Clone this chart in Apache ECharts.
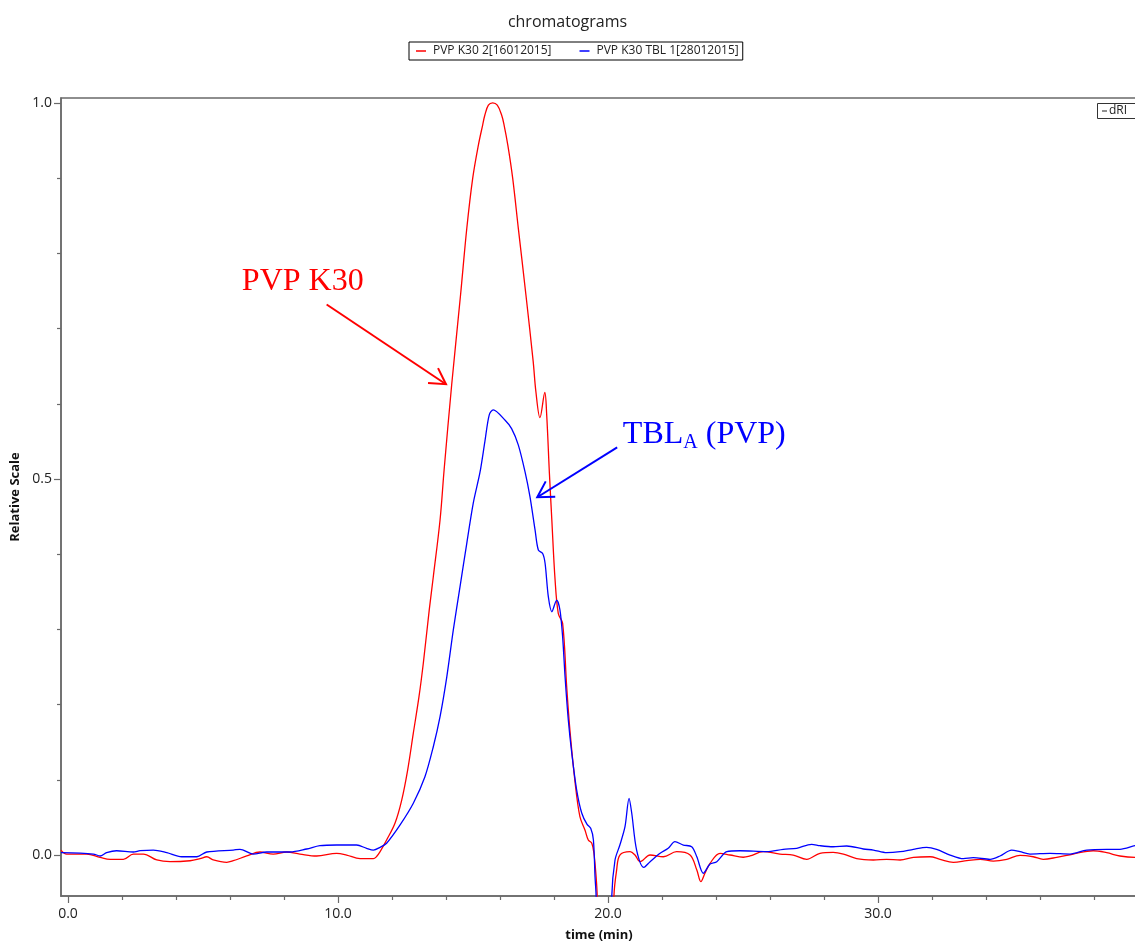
<!DOCTYPE html>
<html>
<head>
<meta charset="utf-8">
<script src="https://cdn.jsdelivr.net/npm/echarts@6/dist/echarts.min.js"></script>
<style>
  html, body { margin: 0; padding: 0; background: #fff; }
  #chart { width: 1135px; height: 945px; }
</style>
</head>
<body>
<div id="chart"></div>
<script>
// Refractive-index (dRI) chromatograms, normalised to the PVP K30 peak.

const seriesNames = ['PVP K30 2[16012015]', 'PVP K30 TBL 1[28012015]'];

// PVP K30 2 — retention time (min) and relative response
const redTime = [
  -0.26, -0.05, 0.69, 1.19, 1.56, 2.05, 2.42, 2.79, 3.29, 3.78, 4.52, 4.89, 5.14, 5.38, 5.88,
  6.12, 6.62, 7.11, 7.60, 8.10, 8.59, 9.21, 9.95, 10.32, 10.82, 11.31, 11.43, 11.56, 11.80, 12.11,
  12.36, 12.58, 12.79, 13.00, 13.16, 13.38, 13.53, 13.78, 13.93, 14.21, 14.54, 14.77, 14.99, 15.20,
  15.36, 15.44, 15.57, 15.73, 15.90, 16.06, 16.15, 16.29, 16.47, 16.68, 16.96, 17.23, 17.33, 17.48, 17.66, 17.73, 17.83, 17.92,
  18.04, 18.16, 18.32, 18.47, 18.59, 18.78, 18.96, 19.15, 19.27, 19.40, 19.48, 19.56, 19.60, 19.75,
  20.05, 20.22, 20.32, 20.44, 20.82, 21.00, 21.19, 21.56, 22.05, 22.54, 23.04, 23.29, 23.44, 23.59,
  23.78, 24.15, 24.52, 25.01, 25.26, 25.75, 26.37, 26.86, 27.36, 27.85, 28.34, 28.72, 29.21, 29.83,
  30.32, 30.82, 31.31, 31.93, 32.30, 32.79, 33.29, 33.78, 34.27, 34.77, 35.26, 35.75, 36.12, 36.62,
  37.23, 37.97, 38.47, 38.96, 39.52, 39.8
];
const redValue = [
  0.0066, 0.0013, 0.0013, -0.0031, -0.0057, -0.0057, 0.0013, 0.0013, -0.0066, -0.0089, -0.0076, -0.0049, -0.0023, -0.0066, -0.0097,
  -0.0076, -0.0013, 0.0040, 0.0013, 0.0040, 0.0013, -0.0013, 0.0023, 0.0000, -0.0049, -0.0049, -0.0020, 0.0044, 0.0199, 0.0422,
  0.0731, 0.113, 0.162, 0.2105, 0.255, 0.326, 0.370, 0.4455, 0.512, 0.625, 0.745, 0.833, 0.900, 0.944,
  0.971, 0.984, 0.997, 1.000, 0.997, 0.984, 0.971, 0.944, 0.900, 0.833, 0.745, 0.656, 0.616, 0.5815, 0.615, 0.585, 0.5076, 0.4455,
  0.366, 0.321, 0.308, 0.224, 0.166, 0.097, 0.051, 0.033, 0.020, 0.0156, 0.0023, -0.029, -0.055, -0.40,
  -0.40, -0.055, -0.020, 0.0000, 0.0044, 0.0000, -0.0089, 0.0000, -0.0023, 0.0044, 0.0000, -0.020, -0.0355, -0.0243,
  -0.011, 0.0023, 0.0000, -0.0030, -0.0013, 0.0044, 0.0013, 0.0000, -0.0057, 0.0023, 0.0036, 0.0013, -0.0049, -0.0066,
  -0.0057, -0.0066, -0.0031, -0.0023, -0.0057, -0.0097, -0.0076, -0.0057, -0.0080, -0.0057, -0.0004, -0.0023, -0.0057, -0.0031,
  0.0013, 0.0057, 0.0031, -0.0013, -0.0031, -0.0030
];

// PVP K30 TBL 1 — retention time (min) and relative response
const blueTime = [
  -0.26, 0.94, 1.19, 1.43, 1.80, 2.42, 2.67, 3.16, 3.66, 4.21, 4.77, 5.14, 6.12, 6.37, 6.86,
  7.36, 8.22, 8.84, 9.33, 9.95, 10.69, 11.06, 11.31, 11.56, 11.80, 12.30, 12.79, 13.22, 13.53, 13.78,
  14.03, 14.27, 14.52, 14.77, 15.01, 15.26, 15.44, 15.60, 15.75, 16.19, 16.43, 16.68, 16.93, 17.11,
  17.30, 17.42, 17.58, 17.67, 17.79, 17.92, 18.10, 18.22, 18.32, 18.41, 18.53, 18.66, 18.84, 19.03,
  19.22, 19.36, 19.46, 19.52, 19.56, 19.70, 19.95, 20.14, 20.26, 20.44, 20.63, 20.78, 20.88, 21.06,
  21.33, 21.56, 21.93, 22.23, 22.48, 22.79, 23.10, 23.29, 23.53, 23.78, 24.03, 24.40, 24.89, 25.88,
  26.49, 26.99, 27.54, 27.85, 28.34, 28.84, 29.46, 29.83, 30.32, 30.82, 31.31, 31.80, 32.17, 32.67,
  33.16, 33.53, 34.15, 34.52, 34.95, 35.26, 35.63, 36.37, 37.11, 37.73, 38.47, 38.96, 39.52, 39.8
];
const blueValue = [
  0.0031, 0.0013, -0.0013, 0.0031, 0.0057, 0.0040, 0.0057, 0.0066, 0.0031, -0.0023, -0.0023, 0.0040, 0.0066, 0.0076, 0.0013,
  0.0040, 0.0040, 0.0080, 0.0124, 0.0133, 0.0133, 0.0089, 0.0066, 0.0102, 0.0156, 0.040, 0.0688, 0.104, 0.144, 0.184,
  0.237, 0.299, 0.357, 0.4145, 0.468, 0.509, 0.5496, 0.585, 0.592, 0.578, 0.567, 0.545, 0.509, 0.4765,
  0.432, 0.4056, 0.401, 0.388, 0.3435, 0.3235, 0.339, 0.326, 0.290, 0.237, 0.1795, 0.135, 0.0864, 0.0555,
  0.041, 0.0355, 0.020, -0.029, -0.055, -0.40, -0.40, -0.055, -0.0066, 0.0133, 0.0376, 0.0754, 0.0555, 0.0066,
  -0.0164, -0.0089, 0.0023, 0.0089, 0.0177, 0.0133, 0.0110, -0.0023, -0.0243, -0.0120, -0.0089, 0.0044, 0.0057, 0.0044,
  0.0076, 0.0089, 0.0142, 0.0124, 0.0110, 0.0120, 0.0080, 0.0066, 0.0031, 0.0044, 0.0076, 0.0102, 0.0076, 0.0000,
  -0.0049, -0.0036, -0.0057, -0.0013, 0.0066, 0.0044, 0.0013, 0.0023, 0.0013, 0.0066, 0.0076, 0.0076, 0.0124, 0.0140
];

// Axis ticks and labels
const xMajorTicks = [0, 10, 20, 30];
const xMinorTicks = [2, 4, 6, 8, 12, 14, 16, 18, 22, 24, 26, 28, 32, 34, 36, 38];
const yMajorTicks = [0, 0.5, 1.0];
const yMinorTicks = [0.1, 0.2, 0.3, 0.4, 0.6, 0.7, 0.8, 0.9];

const X_MIN = -0.259, X_MAX = 39.593;
const Y_MIN = -0.0545, Y_MAX = 1.0066;

const RED = '#ff0000', BLUE = '#0000ff';
const FRAME = '#6a6a6a';
const UI_FONT = '"Open Sans", "Noto Sans", sans-serif';
const SERIF = '"Liberation Serif", "DejaVu Serif", serif';

function zip(t, v) { return t.map((x, i) => [x, v[i]]); }

const chart = echarts.init(document.getElementById('chart'), null, { renderer: 'canvas' });

const option = {
  animation: false,
  backgroundColor: '#ffffff',
  title: {
    text: 'chromatograms',
    left: 'center',
    top: 9,
    textStyle: { fontFamily: UI_FONT, fontSize: 16, fontWeight: 'normal', color: '#222' }
  },
  legend: {
    data: seriesNames,
    left: 409,
    top: 42,
    orient: 'horizontal',
    borderColor: '#000',
    borderWidth: 1,
    borderRadius: 0,
    padding: [3, 4, 3, 7],
    itemGap: 28,
    itemWidth: 10,
    itemHeight: 1.5,
    icon: 'rect',
    textStyle: { fontFamily: UI_FONT, fontSize: 12, color: '#222', padding: [0, 0, 0, 2] }
  },
  grid: {
    left: 61,
    right: -2,
    top: 98,
    bottom: 49,
    show: true,
    borderColor: FRAME,
    borderWidth: 1.5,
    backgroundColor: 'transparent',
    containLabel: false,
    outerBoundsMode: 'none'
  },
  xAxis: [
    {
      type: 'value',
      min: X_MIN,
      max: X_MAX,
      position: 'bottom',
      name: 'time (min)',
      nameLocation: 'middle',
      nameGap: 33,
      nameTextStyle: { fontFamily: UI_FONT, fontSize: 13, fontWeight: 'bold', color: '#111' },
      axisLine: { show: true, onZero: false, lineStyle: { color: FRAME, width: 1.5 } },
      axisTick: { show: true, customValues: xMajorTicks, length: 7, lineStyle: { color: FRAME, width: 1.2 } },
      axisLabel: {
        show: true,
        customValues: xMajorTicks,
        formatter: v => v.toFixed(1),
        margin: 11,
        fontFamily: UI_FONT,
        fontSize: 14,
        color: '#222'
      },
      splitLine: { show: false }
    },
    {
      type: 'value',
      min: X_MIN,
      max: X_MAX,
      position: 'bottom',
      axisLine: { show: false, onZero: false },
      axisTick: { show: true, customValues: xMinorTicks, length: 4, lineStyle: { color: FRAME, width: 1.2 } },
      axisLabel: { show: false },
      splitLine: { show: false }
    }
  ],
  yAxis: [
    {
      type: 'value',
      min: Y_MIN,
      max: Y_MAX,
      position: 'left',
      name: 'Relative Scale',
      nameLocation: 'middle',
      nameGap: 33,
      nameRotate: 90,
      nameTextStyle: { fontFamily: UI_FONT, fontSize: 13, fontWeight: 'bold', color: '#111' },
      axisLine: { show: true, onZero: false, lineStyle: { color: FRAME, width: 1.5 } },
      axisTick: { show: true, customValues: yMajorTicks, length: 7, lineStyle: { color: FRAME, width: 1.2 } },
      axisLabel: {
        show: true,
        customValues: yMajorTicks,
        formatter: v => v.toFixed(1),
        margin: 9,
        fontFamily: UI_FONT,
        fontSize: 14,
        color: '#222'
      },
      splitLine: { show: false }
    },
    {
      type: 'value',
      min: Y_MIN,
      max: Y_MAX,
      position: 'left',
      axisLine: { show: false, onZero: false },
      axisTick: { show: true, customValues: yMinorTicks, length: 4, lineStyle: { color: FRAME, width: 1.2 } },
      axisLabel: { show: false },
      splitLine: { show: false }
    }
  ],
  series: [
    {
      name: seriesNames[0],
      type: 'line',
      xAxisIndex: 0,
      yAxisIndex: 0,
      data: zip(redTime, redValue),
      showSymbol: false,
      smooth: 0.35,
      clip: true,
      lineStyle: { color: RED, width: 1.3 },
      itemStyle: { color: RED },
      z: 3
    },
    {
      name: seriesNames[1],
      type: 'line',
      xAxisIndex: 0,
      yAxisIndex: 0,
      data: zip(blueTime, blueValue),
      showSymbol: false,
      smooth: 0.3,
      clip: true,
      lineStyle: { color: BLUE, width: 1.3 },
      itemStyle: { color: BLUE },
      z: 4
    }
  ]
};

chart.setOption(option);

// Annotations placed in data coordinates (time, relative scale)
function px(p) { return chart.convertToPixel({ xAxisIndex: 0, yAxisIndex: 0 }, p); }

function arrow(from, to, color) {
  const a = px(from), b = px(to);
  const ang = Math.atan2(b[1] - a[1], b[0] - a[0]);
  const len = 18, spread = Math.PI / 6;
  const b1 = [b[0] - len * Math.cos(ang - spread), b[1] - len * Math.sin(ang - spread)];
  const b2 = [b[0] - len * Math.cos(ang + spread), b[1] - len * Math.sin(ang + spread)];
  return [
    { type: 'line', shape: { x1: a[0], y1: a[1], x2: b[0], y2: b[1] }, style: { stroke: color, lineWidth: 2 }, z: 10 },
    { type: 'polyline', shape: { points: [b1, b, b2] }, style: { stroke: color, lineWidth: 2, fill: null }, z: 10 }
  ];
}

const k30Pos = px([6.44, 0.762]);
const tblPos = px([20.55, 0.5585]);

const graphics = [
  {
    type: 'text',
    x: k30Pos[0],
    y: k30Pos[1],
    style: {
      text: 'PVP K30',
      fill: RED,
      font: '32px ' + SERIF,
      align: 'left',
      verticalAlign: 'middle'
    },
    z: 10
  },
  {
    type: 'text',
    x: tblPos[0],
    y: tblPos[1],
    style: {
      text: '{m|TBL}{s|A}{m| (PVP)}',
      align: 'left',
      verticalAlign: 'middle',
      rich: {
        m: { fontFamily: SERIF, fontSize: 32, lineHeight: 36, fill: BLUE, color: BLUE },
        s: { fontFamily: SERIF, fontSize: 20, lineHeight: 22, verticalAlign: 'bottom', fill: BLUE, color: BLUE }
      }
    },
    z: 10
  },
  ...arrow([9.58, 0.732], [14.0, 0.626], RED),
  ...arrow([20.34, 0.542], [17.38, 0.4757], BLUE),
  // detector key box at the top right of the plot
  {
    type: 'rect',
    shape: { x: 1097.5, y: 103.5, width: 45, height: 15 },
    style: { fill: '#fff', stroke: '#333', lineWidth: 1 },
    z: 10
  },
  {
    type: 'line',
    shape: { x1: 1102, y1: 111, x2: 1107, y2: 111 },
    style: { stroke: '#222', lineWidth: 1 },
    z: 11
  },
  {
    type: 'text',
    x: 1109,
    y: 111,
    style: { text: 'dRI', font: '12px ' + UI_FONT, fill: '#222', verticalAlign: 'middle' },
    z: 11
  }
];

chart.setOption({ graphic: graphics });
</script>
</body>
</html>
